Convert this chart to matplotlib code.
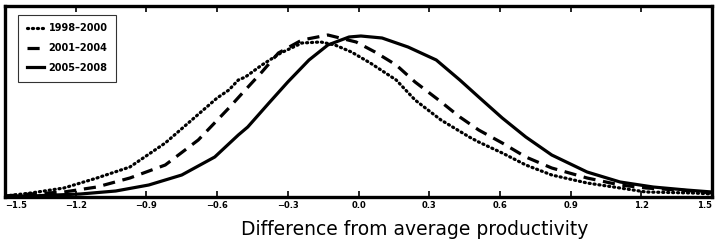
import numpy as np
import matplotlib
matplotlib.use("Agg")
import matplotlib.pyplot as plt

# Données (densité, unités arbitraires)
x_9800 = [-1.5, -1.39, -1.25, -1.11, -0.97, -0.82, -0.60, -0.55, -0.51, -0.48, -0.41, -0.33, -0.24,
          -0.16, -0.10, -0.03, 0.05, 0.16, 0.24, 0.35, 0.47, 0.51, 0.61, 0.71, 0.82, 0.97, 1.11,
          1.22, 1.42, 1.5]
y_9800 = [0.01, 0.04, 0.09, 0.19, 0.30, 0.54, 0.99, 1.07, 1.17, 1.20, 1.32, 1.44, 1.54,
          1.55, 1.52, 1.45, 1.34, 1.17, 0.97, 0.77, 0.60, 0.55, 0.44, 0.32, 0.22, 0.14, 0.09,
          0.05, 0.04, 0.03]

x_0104 = [-1.5, -1.39, -1.25, -1.11, -0.97, -0.82, -0.68, -0.55, -0.50, -0.41, -0.34, -0.24, -0.13,
          -0.01, 0.07, 0.16, 0.24, 0.34, 0.43, 0.51, 0.61, 0.71, 0.82, 0.97, 1.11, 1.22, 1.42, 1.5]
y_0104 = [0.01, 0.03, 0.05, 0.10, 0.19, 0.32, 0.57, 0.89, 1.02, 1.25, 1.44, 1.57, 1.62,
          1.55, 1.45, 1.32, 1.15, 0.97, 0.80, 0.67, 0.54, 0.40, 0.29, 0.19, 0.12, 0.09, 0.06, 0.04]

x_0508 = [-1.5, -1.39, -1.18, -1.03, -0.89, -0.75, -0.61, -0.51, -0.47, -0.38, -0.30, -0.21, -0.13,
          -0.04, 0.01, 0.10, 0.21, 0.33, 0.43, 0.51, 0.61, 0.71, 0.82, 0.97, 1.11, 1.25, 1.39, 1.5]
y_0508 = [0.01, 0.01, 0.03, 0.06, 0.12, 0.22, 0.40, 0.62, 0.70, 0.94, 1.15, 1.37, 1.52,
          1.60, 1.61, 1.59, 1.50, 1.37, 1.17, 1.00, 0.79, 0.60, 0.42, 0.25, 0.15, 0.10, 0.07, 0.05]

ticks = [-1.5, -1.2, -0.9, -0.6, -0.3, 0.0, 0.3, 0.6, 0.9, 1.2, 1.5]
tick_labels = ["\u22121.5", "\u22121.2", "\u22120.9", "\u22120.6", "\u22120.3", "0.0",
               "0.3", "0.6", "0.9", "1.2", "1.5"]

fig = plt.figure(figsize=(7.15, 2.45), dpi=100)
ax = fig.add_axes([5 / 715, 48 / 245, 707 / 715, 191 / 245])

ax.plot(x_9800, y_9800, color="black", lw=2.3, linestyle=(0, (0.35, 1.2)),
        dash_capstyle="round", label="1998\u20132000")
ax.plot(x_0104, y_0104, color="black", lw=2.3, linestyle=(0, (3.8, 2.4)), label="2001\u20132004")
ax.plot(x_0508, y_0508, color="black", lw=2.3, label="2005\u20132008")

ax.set_xlim(-1.5, 1.5)
ax.set_ylim(0, 1.91)
ax.set_yticks([])
ax.set_xticks(ticks)
ax.set_xticklabels(tick_labels, fontsize=6, fontweight="bold")
lbls = ax.get_xticklabels()
lbls[0].set_horizontalalignment("left")
lbls[-1].set_horizontalalignment("right")
ax.tick_params(axis="x", direction="in", top=True, length=4, width=1.2, pad=3)
for s in ax.spines.values():
    s.set_linewidth(2.4)

ax.set_xlabel("Difference from average productivity", fontsize=13.5)
ax.xaxis.set_label_coords(0.58, -0.12)

leg = ax.legend(loc="upper left", bbox_to_anchor=(0.012, 0.98), frameon=True, fancybox=False,
                prop={"size": 7, "weight": "bold"}, handlelength=1.7,
                handletextpad=0.5, borderpad=0.9, labelspacing=1.0)
leg.get_frame().set_edgecolor("black")
leg.get_frame().set_linewidth(0.8)

fig.savefig("out.png", dpi=100)
